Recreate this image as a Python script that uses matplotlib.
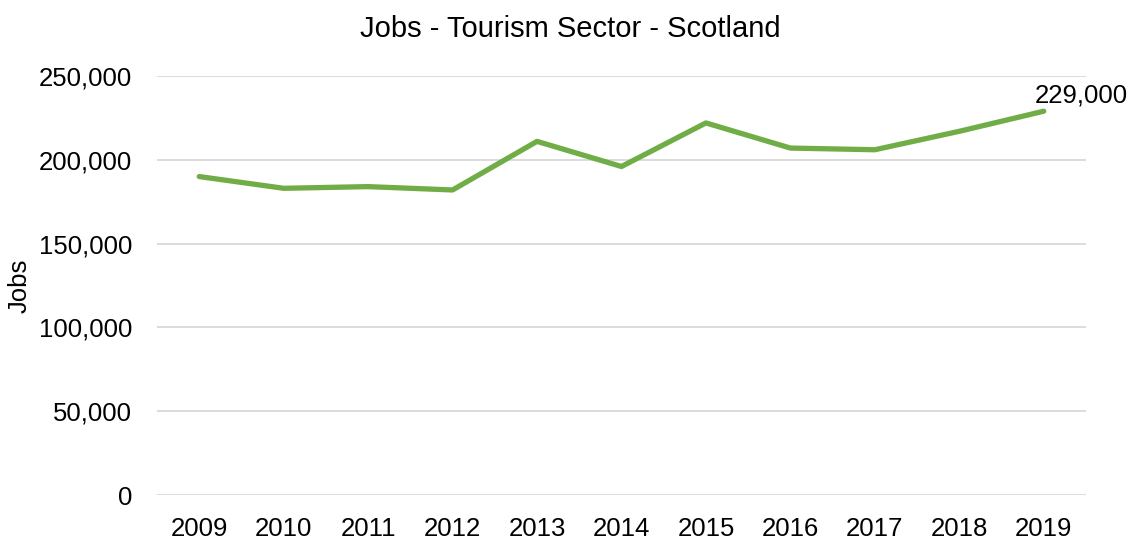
import matplotlib.pyplot as plt
from matplotlib.ticker import FuncFormatter

plt.rcParams['font.family'] = ['Liberation Sans', 'DejaVu Sans']

years = ['2009', '2010', '2011', '2012', '2013', '2014',
         '2015', '2016', '2017', '2018', '2019']
jobs = [190000, 183000, 184000, 182000, 211000, 196000,
        222000, 207000, 206000, 217000, 229000]

fig = plt.figure(figsize=(11.31, 5.39), dpi=100)
ax = fig.add_axes([0.1388, 0.0816, 0.8214, 0.7774])

x = list(range(len(years)))
ax.plot(x, jobs, color='#70AD47', linewidth=3.8, solid_capstyle='round',
        solid_joinstyle='round', zorder=3)

# Label the latest value
ax.annotate(f'{jobs[-1]:,}', (x[-1], jobs[-1]), xytext=(-6.5, 6),
            textcoords='offset points', ha='left', va='baseline',
            fontsize=18.5, color='#000000')

ax.set_xlim(-0.5, len(years) - 0.5)
ax.set_ylim(0, 250000)
ax.set_yticks(range(0, 250001, 50000))
ax.yaxis.set_major_formatter(FuncFormatter(lambda v, p: f'{int(v):,}'))
ax.set_xticks(x)
ax.set_xticklabels(years)

ax.grid(axis='y', color='#D9D9D9', linewidth=1.3)
ax.set_axisbelow(True)
for s in ax.spines.values():
    s.set_visible(False)
ax.tick_params(length=0, labelsize=18.5)
ax.tick_params(axis='y', pad=18)
ax.tick_params(axis='x', pad=16)

ax.set_ylabel('Jobs', fontsize=18.5)
ax.yaxis.set_label_coords(-0.1345, 0.5)
fig.text(0.504, 1 - 29 / 539, 'Jobs - Tourism Sector - Scotland',
         ha='center', va='center', fontsize=21)

plt.savefig('out.png', dpi=100)
